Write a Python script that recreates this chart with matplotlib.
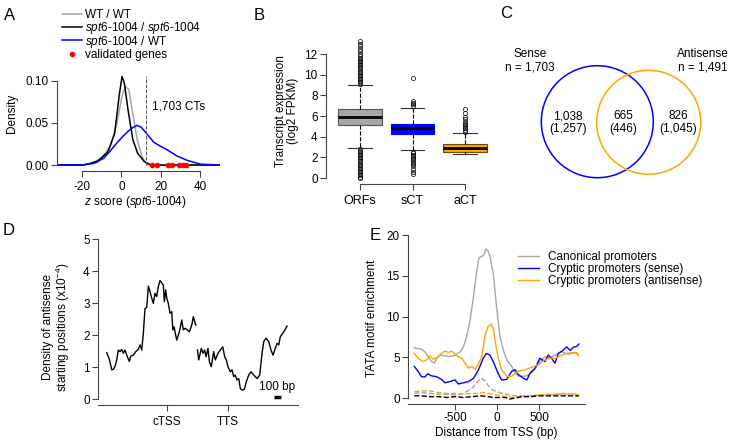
import matplotlib
matplotlib.use("Agg")
import matplotlib.pyplot as plt
from matplotlib.patches import Circle
from matplotlib.lines import Line2D

plt.rcParams.update({
    'font.family': ['Liberation Sans', 'DejaVu Sans'],
    'font.size': 8,
    'mathtext.fontset': 'custom',
    'mathtext.rm': 'Liberation Sans',
    'mathtext.it': 'Liberation Sans:italic',
    'axes.unicode_minus': False,
    'axes.linewidth': 0.8,
    'xtick.major.size': 4,
    'ytick.major.size': 4,
    'xtick.major.width': 0.8,
    'ytick.major.width': 0.8,
})

# ---- panel A: z score densities ----
wt_x = [-33, -20, -12, -5.6, -2.2, 0.3, 2, 3.7, 5.4, 8, 10.5, 13, 20, 50]
wt_y = [0, 0, 0.003, 0.022, 0.05, 0.082, 0.093, 0.09, 0.066, 0.03, 0.01, 0.0, 0, 0]
mut_x = [-33, -20, -17, -12, -7, -3.5, -1, 0.3, 1.5, 3.3, 5.8, 8.2, 11.6, 15, 20, 50]
mut_y = [0, 0, 0.001, 0.005, 0.015, 0.037, 0.085, 0.105, 0.097, 0.066, 0.03, 0.014, 0.004, 0.0, 0, 0]
mixed_x = [-33, -20, -14, -9, -5.6, -2, 0.3, 2.9, 5.5, 7.9, 10, 12.5, 16.4, 20, 23.2, 28.2, 33.3, 40, 50]
mixed_y = [0, 0.0, 0.002, 0.008, 0.017, 0.027, 0.033, 0.039, 0.044, 0.047, 0.045, 0.038, 0.027, 0.022, 0.018, 0.0107, 0.0056, 0.001, 0]
validated_z = [15.7, 18.2, 23.8, 25.9, 29.3, 31.0, 32.8]
ct_threshold = 12.5
ct_label = '1,703 CTs'
a_labels = ['WT / WT',
            r'$\mathit{spt6}$-$\mathit{1004}$ / $\mathit{spt6}$-$\mathit{1004}$',
            r'$\mathit{spt6}$-$\mathit{1004}$ / WT',
            'validated genes']

# ---- panel B: transcript expression boxplots ----
box_labels = ['ORFs', 'sCT', 'aCT']
box_q1 = [5.13, 4.26, 2.55]
box_med = [5.87, 4.81, 2.87]
box_q3 = [6.68, 5.23, 3.26]
box_whislo = [2.87, 2.71, 2.32]
box_whishi = [9.0, 6.74, 4.39]
orf_fliers = [0.0, 0.12, 0.25, 0.4, 0.55, 0.7, 0.85, 1.0, 1.15, 1.3, 1.45, 1.6, 1.75,
              1.9, 2.05, 2.2, 2.35, 2.5, 2.65, 2.8,
              9.1, 9.25, 9.4, 9.55, 9.7, 9.85, 10.0, 10.15, 10.3, 10.45, 10.6, 10.75,
              10.9, 11.05, 11.2, 11.35, 11.5, 11.65, 11.8, 12.0, 12.25, 12.5, 12.75,
              13.0, 13.3]
sct_fliers = [0.35, 0.6, 0.9, 1.15, 1.35, 1.5, 1.65, 1.8, 1.95, 2.1, 2.25, 2.4, 2.55,
              7.0, 7.15, 7.3, 7.5, 9.7]
act_fliers = [4.5, 4.65, 4.8, 4.95, 5.1, 5.25, 5.4, 5.75, 5.95, 6.3, 6.65]
box_fill = ['#a6a6a6', '#0000ff', '#ffa500']
box_edge = ['#555555', '#0000ff', '#6b4a00']

# ---- panel C: Venn counts ----
sense_total = '1,703'
antisense_total = '1,491'
venn_counts = ['1,038', '665', '826']
venn_counts_alt = ['(1,257)', '(446)', '(1,045)']

# ---- panel D: antisense start density (x1e-4) ----
tss_pos = [-802, -767, -735, -714, -692, -669, -648, -625, -603, -581, -559, -536, -501,
           -483, -448, -416, -382, -359, -336, -315, -293, -270, -248, -226, -203, -182,
           -160, -137, -116, -93, -70, -49, -36, -17, -4, 17, 40, 63, 76, 93, 129, 164,
           196, 217, 239, 270, 297, 329, 350, 382]
tss_dens = [1.45, 1.24, 0.91, 0.93, 1.01, 1.22, 1.53, 1.48, 1.55, 1.43, 1.53, 1.37, 1.17,
            1.34, 1.37, 1.48, 1.55, 1.69, 1.53, 2.05, 2.83, 2.86, 3.53, 3.35, 3.15, 2.99,
            3.30, 3.20, 3.51, 3.70, 3.63, 3.56, 3.04, 3.41, 3.15, 2.99, 2.68, 2.73, 2.16,
            2.26, 1.84, 2.10, 2.47, 2.16, 2.21, 2.16, 2.10, 2.31, 2.57, 2.31]
tts_pos = [405, 422, 456, 479, 501, 519, 545, 563, 589, 621, 642, 678, 709, 741, 767,
           789, 811, 842, 865, 887, 908, 931, 954, 975, 998, 1028, 1055, 1087, 1117,
           1153, 1197, 1233, 1264, 1286, 1317, 1353, 1383, 1410, 1440, 1463, 1486, 1507,
           1539, 1573, 1596]
tts_dens = [1.53, 1.22, 1.58, 1.43, 1.53, 1.32, 1.58, 1.17, 1.01, 1.48, 1.22, 1.43, 1.53,
            1.63, 1.32, 1.22, 1.01, 0.85, 0.91, 0.70, 0.75, 0.59, 0.64, 0.33, 0.28, 0.30,
            0.54, 0.75, 0.85, 0.75, 0.64, 0.75, 1.43, 1.79, 1.90, 1.79, 1.53, 1.37, 1.58,
            1.74, 1.69, 1.95, 2.05, 2.18, 2.28]
d_tick_pos = [0, 810]
d_tick_labels = ['cTSS', 'TTS']
scale_bar_bp = 100

# ---- panel E: TATA motif enrichment ----
can_x = [-985, -940, -900, -860, -820, -780, -745, -720, -680, -620, -560, -500, -440,
         -400, -360, -320, -280, -240, -215, -180, -155, -130, -110, -85, -45, -5, 35,
         75, 115, 175, 215, 255, 335, 415, 475, 510, 570, 630, 690, 770, 850, 930, 970]
can_y = [6.2, 6.1, 6.0, 5.7, 5.1, 4.5, 4.3, 4.9, 5.3, 5.2, 5.1, 5.3, 5.7, 6.3, 7.6, 9.6,
         12.5, 15.7, 17.2, 17.4, 17.6, 18.3, 18.1, 17.4, 15.3, 11.2, 7.6, 5.9, 4.7, 3.9,
         3.1, 2.7, 2.7, 3.1, 3.9, 4.5, 5.1, 4.9, 5.3, 5.7, 5.4, 5.6, 5.3]
sense_x = [-985, -940, -900, -860, -825, -780, -720, -660, -620, -560, -500, -460, -400,
           -340, -280, -220, -165, -125, -85, -45, -5, 20, 55, 115, 175, 215, 255, 315,
           355, 395, 455, 510, 570, 610, 650, 690, 730, 790, 830, 870, 910, 950, 975]
sense_y = [3.9, 3.3, 2.65, 2.6, 3.0, 2.75, 2.65, 2.3, 1.9, 2.05, 2.25, 1.75, 1.9, 2.05,
           2.45, 3.5, 4.9, 5.5, 5.3, 4.5, 3.5, 2.9, 2.25, 2.3, 3.3, 3.5, 2.9, 2.45, 2.25,
           3.1, 3.7, 4.9, 4.5, 5.3, 4.9, 4.3, 5.5, 5.9, 6.3, 5.85, 6.25, 6.35, 6.65]
anti_x = [-985, -940, -880, -840, -800, -760, -720, -660, -620, -580, -540, -500, -460,
          -420, -380, -340, -300, -260, -220, -180, -145, -105, -70, -45, -5, 20, 55,
          115, 175, 255, 335, 415, 490, 570, 630, 690, 770, 830, 910, 950, 970]
anti_y = [5.5, 4.9, 4.5, 4.7, 5.2, 4.8, 4.9, 5.5, 5.8, 5.6, 5.8, 5.4, 5.1, 4.9, 4.3, 3.7,
          3.9, 3.5, 4.3, 5.1, 7.6, 8.8, 9.1, 8.6, 5.9, 4.7, 3.5, 2.7, 2.7, 3.3, 3.5, 3.8,
          4.1, 4.7, 4.9, 4.9, 5.3, 5.5, 5.6, 5.6, 5.2]
bg_x = [-985, -900, -800, -700, -600, -500, -400, -300, -250, -190, -150, -100, -50, 0,
        100, 150, 200, 300, 400, 500, 600, 700, 800, 900, 975]
can_bg = [0.6, 0.7, 0.6, 0.5, 0.5, 0.4, 0.6, 1.2, 1.8, 2.5, 2.2, 1.5, 1.0, 0.8, 0.5, 0.4,
          0.3, 0.3, 0.3, 0.4, 0.4, 0.5, 0.5, 0.5, 0.5]
anti_bg = [0.8, 0.9, 0.9, 0.7, 0.6, 0.6, 0.5, 0.6, 0.6, 0.7, 0.7, 0.6, 0.5, 0.4, 0.2, 0.15,
           0.1, 0.2, 0.3, 0.4, 0.5, 0.5, 0.6, 0.5, 0.4]
sense_bg = [0.3, 0.3, 0.2, 0.2, 0.1, 0.2, 0.1, 0.2, 0.25, 0.3, 0.25, 0.2, 0.1, 0.1, 0.1,
            -0.1, 0.0, 0.2, 0.2, 0.3, 0.3, 0.3, 0.3, 0.3, 0.3]

W, H = 735, 443
fig = plt.figure(figsize=(W / 100, H / 100), dpi=100)


def px_axes(left, top, right, bottom):
    return fig.add_axes([left / W, 1 - bottom / H, (right - left) / W, (bottom - top) / H])


def r_style(ax):
    for s in ['top', 'right']:
        ax.spines[s].set_visible(False)
    for s in ['left', 'bottom']:
        ax.spines[s].set_color('#444444')
    ax.tick_params(colors='#444444', labelcolor='black', pad=2, labelsize=8.5)


def letter(x, y, s):
    fig.text(x / W, 1 - y / H, s, fontsize=12, ha='left', va='center')


# A
ax = px_axes(57, 74, 220, 171)
r_style(ax)
a_colors = ['#a6a6a6', 'black', '#0000ff']
for xs, ys, c in zip([wt_x, mut_x, mixed_x], [wt_y, mut_y, mixed_y], a_colors):
    ax.plot(xs, ys, color=c, lw=1.1)
ax.plot(validated_z, [0] * len(validated_z), 'o', color='red', ms=3, clip_on=False)
ax.axvline(ct_threshold, ymin=0.066, ymax=0.98, color='#555555', ls='--', lw=0.7)
ax.text(29, 0.069, ct_label, ha='center', va='center', fontsize=8.5)
ax.set_xlim(-32.7, 50)
ax.set_ylim(-0.0071, 0.108)
ax.set_xticks([-20, 0, 20, 40])
ax.set_yticks([0, 0.05, 0.10])
ax.set_yticklabels(['0.00', '0.05', '0.10'])
ax.tick_params(axis='x', pad=3)
ax.spines['left'].set_bounds(0, 0.10)
ax.spines['bottom'].set_bounds(-20, 40)

# legend for A, rows placed by hand in figure pixels
rows = [13.8, 27.0, 40.3, 53.6]
for i, y in enumerate(rows):
    yf = 1 - y / H
    if i < 3:
        fig.add_artist(Line2D([62 / W, 82 / W], [yf, yf], color=a_colors[i], lw=1.1,
                              transform=fig.transFigure))
    else:
        fig.add_artist(Line2D([71.5 / W], [yf], color='red', marker='o', ms=3, lw=0,
                              transform=fig.transFigure))
    fig.text(85 / W, 1 - (y + 4.2) / H, a_labels[i], ha='left', va='baseline', fontsize=8.5)

fig.text(12 / W, 1 - 113 / H, 'Density', rotation=90, ha='center', va='center', fontsize=8.5)
fig.text(135 / W, 1 - 202 / H, r'$\mathit{z}$ score ($\mathit{spt6}$-$\mathit{1004}$)',
         ha='center', va='center', fontsize=8.5)
letter(4, 15, 'A')

# B
ax = px_axes(326, 37.5, 499, 184)
r_style(ax)
stats = []
fliers = [orf_fliers, sct_fliers, act_fliers]
for i in range(3):
    stats.append({'label': box_labels[i], 'q1': box_q1[i], 'med': box_med[i], 'q3': box_q3[i],
                  'whislo': box_whislo[i], 'whishi': box_whishi[i], 'fliers': fliers[i]})
bp = ax.bxp(stats, positions=[1, 2, 3], widths=0.82, patch_artist=True, capwidths=0.45,
            whiskerprops=dict(ls='--', lw=0.8, color='black'),
            capprops=dict(lw=0.8, color='#333333'),
            medianprops=dict(lw=2.0, color='black'),
            flierprops=dict(marker='o', ms=3, mfc='none', mec='black', mew=0.5))
for patch, fc, ec in zip(bp['boxes'], box_fill, box_edge):
    patch.set_facecolor(fc)
    patch.set_edgecolor(ec)
    patch.set_linewidth(0.8)
ax.set_xlim(0.352, 3.648)
ax.set_ylim(-0.58, 13.6)
ax.set_yticks([0, 2, 4, 6, 8, 10, 12])
ax.set_xticks([1, 2, 3])
ax.set_xticklabels(box_labels, fontsize=9)
ax.tick_params(axis='x', pad=4)
ax.spines['left'].set_bounds(0, 12)
ax.spines['bottom'].set_bounds(1, 3)
fig.text(287 / W, 1 - 111 / H, 'Transcript expression\n(log2 FPKM)', rotation=90,
         ha='center', va='center', linespacing=1.0, fontsize=8.5)
letter(254, 15, 'B')

# C
ax = px_axes(490, 0, 735, 200)
ax.set_xlim(490, 735)
ax.set_ylim(200, 0)
ax.axis('off')
ax.add_patch(Circle((597.3, 121.7), 56, fill=False, ec='#0000ff', lw=1.1))
ax.add_patch(Circle((648.7, 122.3), 52, fill=False, ec='#ffa500', lw=1.1))
ax.text(530, 61, 'Sense\nn = ' + sense_total, ha='center', va='center', fontsize=8.5,
        linespacing=1.2)
ax.text(703, 61, 'Antisense\nn = ' + antisense_total, ha='center', va='center', fontsize=8.5,
        linespacing=1.2)
for cx, a, b in zip([568, 623, 678], venn_counts, venn_counts_alt):
    ax.text(cx, 122.5, a + '\n' + b, ha='center', va='center', fontsize=8.5, linespacing=1.05)
letter(500, 14, 'C')

# D
ax = px_axes(98, 235.8, 298, 405)
r_style(ax)
ax.plot(tss_pos, tss_dens, color='black', lw=1.0)
ax.plot(tts_pos, tts_dens, color='black', lw=1.0)
ax.plot([1420, 1420 + scale_bar_bp], [0.07, 0.07], color='black', lw=2.5,
        solid_capstyle='butt')
ax.text(1470, 0.36, '100 bp', ha='center', va='center', fontsize=8.5)
ax.set_xlim(-918, 1742)
ax.set_ylim(-0.1875, 5.1)
ax.set_xticks(d_tick_pos)
ax.set_xticklabels(d_tick_labels)
ax.tick_params(axis='x', pad=4)
ax.set_yticks([0, 1, 2, 3, 4, 5])
ax.spines['left'].set_bounds(0, 5)
fig.text(57 / W, 1 - 327 / H, 'Density of antisense\nstarting positions (x10$^{-4}$)',
         rotation=90, ha='center', va='center', linespacing=1.0, fontsize=8.5)
letter(3, 230, 'D')

# E
ax = px_axes(408, 233.4, 585, 404)
r_style(ax)
ax.plot(bg_x, can_bg, color='#a6a6a6', lw=1.0, ls='--')
ax.plot(bg_x, anti_bg, color='#ffa500', lw=1.0, ls='--')
ax.plot(bg_x, sense_bg, color='black', lw=1.0, ls='--')
l1, = ax.plot(can_x, can_y, color='#a6a6a6', lw=1.0)
l2, = ax.plot(sense_x, sense_y, color='#0000ff', lw=1.0)
l3, = ax.plot(anti_x, anti_y, color='#ffa500', lw=1.0)
ax.set_xlim(-1060, 1048)
ax.set_ylim(-0.70, 20.2)
ax.set_xticks([-500, 0, 500])
ax.set_yticks([0, 5, 10, 15, 20])
ax.spines['left'].set_bounds(0, 20)
ax.set_xlabel('Distance from TSS (bp)', labelpad=2, fontsize=8.5)
fig.legend([l1, l2, l3], ['Canonical promoters', 'Cryptic promoters (sense)',
                          'Cryptic promoters (antisense)'],
           loc='upper left', bbox_to_anchor=(518 / W, 1 - 251 / H), frameon=False,
           handlelength=1.8, handletextpad=0.7, labelspacing=0.0, borderpad=0,
           borderaxespad=0, fontsize=8.5)
fig.text(372 / W, 1 - 318 / H, 'TATA motif enrichment', rotation=90, ha='center',
         va='center', fontsize=8.5)
letter(370, 236, 'E')

fig.savefig('out.png', dpi=100)
